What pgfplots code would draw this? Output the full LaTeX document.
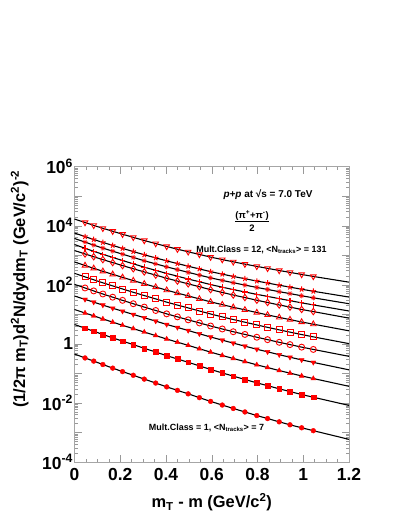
\documentclass[border=0pt]{standalone}
\usepackage{fontspec}
\setmainfont{Liberation Sans}
\setsansfont{Liberation Sans}
\usepackage{pgfplots}
\pgfplotsset{compat=1.18}
\usepackage{pgfplotstable}
\usetikzlibrary{plotmarks}

% pion spectra, multiplicity classes 12 (top) ... 1 (bottom); x = mT - m
\pgfplotstableread{
x      c12     c11     c10     c9      c8      c7      c6      c5      c4      c3      c2       c1
0      1.69e4  5.69e3  3.71e3  2.32e3  1.45e3  593     245     104     41.8    14.6    4.53     0.454
0.046  1.29e4  4.30e3  2.79e3  1.73e3  1.11e3  451     186     78.3    32.1    11.1    3.39     0.334
0.084  1.03e4  3.42e3  2.21e3  1.36e3  893     362     148     62.2    25.9    8.87    2.69     0.261
0.124  8.20e3  2.73e3  1.75e3  1.08e3  713     287     117     48.9    20.6    6.98    2.08     0.200
0.167  6.52e3  2.16e3  1.38e3  847     565     227     92.0    38.1    16.1    5.43    1.60     0.151
0.21   5.16e3  1.71e3  1.09e3  665     448     179     72.3    29.8    12.8    4.25    1.24     0.115
0.257  4.06e3  1.34e3  847     515     350     139     55.8    22.9    9.95    3.29    0.942    0.0865
0.305  3.16e3  1.04e3  653     396     273     108     43.3    17.6    7.69    2.51    0.708    0.0641
0.355  2.49e3  815     512     309     213     84.1    33.4    13.5    5.90    1.91    0.530    0.0472
0.403  1.99e3  647     406     243     167     65.8    25.9    10.4    4.55    1.46    0.399    0.0350
0.45   1.61e3  525     327     196     134     52.5    20.6    8.22    3.60    1.14    0.308    0.0267
0.497  1.31e3  426     264     157     108     42.1    16.5    6.53    2.84    0.891   0.238    0.0203
0.546  1.07e3  345     213     127     86.1    33.4    13.0    5.13    2.20    0.684   0.180    0.0151
0.595  869     279     172     102     68.5    26.5    10.3    4.03    1.71    0.526   0.136    0.0113
0.646  716     230     141     83.2    55.2    21.3    8.20    3.20    1.34    0.406   0.104    0.00849
0.694  600     192     118     69.0    45.2    17.4    6.67    2.58    1.06    0.320   0.0809   0.00650
0.745  502     161     98.0    57.3    37.0    14.2    5.42    2.09    0.838   0.251   0.0625   0.00495
0.797  421     134     81.5    47.5    30.1    11.5    4.38    1.68    0.658   0.195   0.0479   0.00374
0.844  361     115     69.7    40.6    25.2    9.57    3.63    1.39    0.538   0.158   0.0385   0.00296
0.895  305     96.8    58.6    34.0    20.8    7.89    2.98    1.13    0.430   0.125   0.0301   0.00229
0.942  264     83.4    50.4    29.1    17.6    6.65    2.50    0.946   0.353   0.102   0.0243   0.00182
0.993  224     70.8    42.6    24.5    14.6    5.51    2.07    0.776   0.287   0.0822  0.0193   0.00144
1.044  192     60.5    36.3    20.9    12.4    4.65    1.73    0.649   0.236   0.0671  0.0156   0.00115
1.2    123     38.5    22.9    13.0    7.45    2.77    1.02    0.378   0.132   0.0366  0.00824  0.000585
}\spectra

\pgfplotsset{
  fitline/.style={black, line width=1.1bp, no markers},
  pts/.style={only marks, red, mark size=2.4bp,
    restrict x to domain=0.02:1.1},
  open/.style={mark options={draw=red, fill=none, line width=0.9bp, solid, #1}},
  open/.default={},
  full/.style={mark options={draw=red, fill=red, line width=0.4bp, solid, #1}},
  full/.default={},
}

\begin{document}
\begin{tikzpicture}
\begin{axis}[
  scale only axis,
  width=274.5bp, height=295.3bp,
  xmin=0, xmax=1.2,
  ymode=log, ymin=1e-4, ymax=1e6,
  xtick={0,0.2,0.4,0.6,0.8,1,1.2},
  xticklabels={0,0.2,0.4,0.6,0.8,1,1.2},
  minor x tick num=3,
  ytick={1e-4,1e-3,1e-2,1e-1,1,1e1,1e2,1e3,1e4,1e5,1e6},
  yticklabels={10\textsuperscript{-4},,10\textsuperscript{-2},,1,,10\textsuperscript{2},,10\textsuperscript{4},,10\textsuperscript{6}},
  tick align=inside,
  major tick length=7bp, minor tick length=3.5bp,
  every tick/.style={gray!80, line width=0.5bp},
  axis line style={gray!70, line width=0.8bp},
  tick label style={font=\fontsize{17.5}{18}\selectfont\bfseries},
  x tick label style={yshift=-3bp},
  y tick label style={xshift=2bp},
  xlabel={m\textsubscript{T} - m (GeV/c\textsuperscript{2})},
  ylabel={(1/2π m\textsubscript{T})d\textsuperscript{2}N/dydm\textsubscript{T} (GeV/c\textsuperscript{2})\textsuperscript{-2}},
  label style={font=\fontsize{16.5}{18}\selectfont\bfseries},
  xlabel style={at={(axis description cs:0.5,0)}, anchor=center, yshift=-40bp},
  ylabel style={at={(axis description cs:-0.2,1)}, anchor=east},
  clip=true,
]

\addplot[fitline] table[x=x,y=c12] {\spectra};
\addplot[fitline] table[x=x,y=c11] {\spectra};
\addplot[fitline] table[x=x,y=c10] {\spectra};
\addplot[fitline] table[x=x,y=c9] {\spectra};
\addplot[fitline] table[x=x,y=c8] {\spectra};
\addplot[fitline] table[x=x,y=c7] {\spectra};
\addplot[fitline] table[x=x,y=c6] {\spectra};
\addplot[fitline] table[x=x,y=c5] {\spectra};
\addplot[fitline] table[x=x,y=c4] {\spectra};
\addplot[fitline] table[x=x,y=c3] {\spectra};
\addplot[fitline] table[x=x,y=c2] {\spectra};
\addplot[fitline] table[x=x,y=c1] {\spectra};

% data points
\addplot[pts, mark=triangle, mark size=3.2bp, open={rotate=180}] table[x=x,y=c12] {\spectra};
\addplot[pts, mark=star, mark size=2.8bp, open={line width=1bp}] table[x=x,y=c11] {\spectra};
\addplot[pts, mark=10-pointed star, mark size=2.6bp, full] table[x=x,y=c10] {\spectra};
\addplot[pts, mark=+, mark size=2.8bp, open={line width=1.1bp}] table[x=x,y=c9] {\spectra};
\addplot[pts, mark=diamond, mark size=3.2bp, open] table[x=x,y=c8] {\spectra};
\addplot[pts, mark=triangle, mark size=3.2bp, open] table[x=x,y=c7] {\spectra};
\addplot[pts, mark=square, mark size=3bp, open] table[x=x,y=c6] {\spectra};
\addplot[pts, mark=o, mark size=3bp, open] table[x=x,y=c5] {\spectra};
\addplot[pts, mark=triangle*, mark size=2.8bp, full={rotate=180}] table[x=x,y=c4] {\spectra};
\addplot[pts, mark=triangle*, mark size=2.8bp, full] table[x=x,y=c3] {\spectra};
\addplot[pts, mark=square*, full] table[x=x,y=c2] {\spectra};
\addplot[pts, mark=*, full] table[x=x,y=c1] {\spectra};

\node[font=\fontsize{10}{12}\selectfont\bfseries] at (rel axis cs:0.705,0.904)
  {\textit{p+p} at √s = 7.0 TeV};
\node[font=\fontsize{9.5}{11}\selectfont\bfseries] at (rel axis cs:0.647,0.81)
  {\begin{tabular}{@{}c@{}}(π\textsuperscript{+}+π\textsuperscript{-})\\[-1pt]\hline\rule{0pt}{10pt}2\end{tabular}};
\node[font=\fontsize{9}{11}\selectfont\bfseries] at (rel axis cs:0.681,0.718)
  {Mult.Class = 12, <N\textsubscript{tracks}> = 131};
\node[font=\fontsize{9}{11}\selectfont\bfseries] at (rel axis cs:0.481,0.115)
  {Mult.Class = 1, <N\textsubscript{tracks}> = 7};
\end{axis}
\pgfresetboundingbox
\path[use as bounding box] (current axis.south west) ++(-74.5bp,-54bp) rectangle ++(399bp,516bp);
\end{tikzpicture}
\end{document}
